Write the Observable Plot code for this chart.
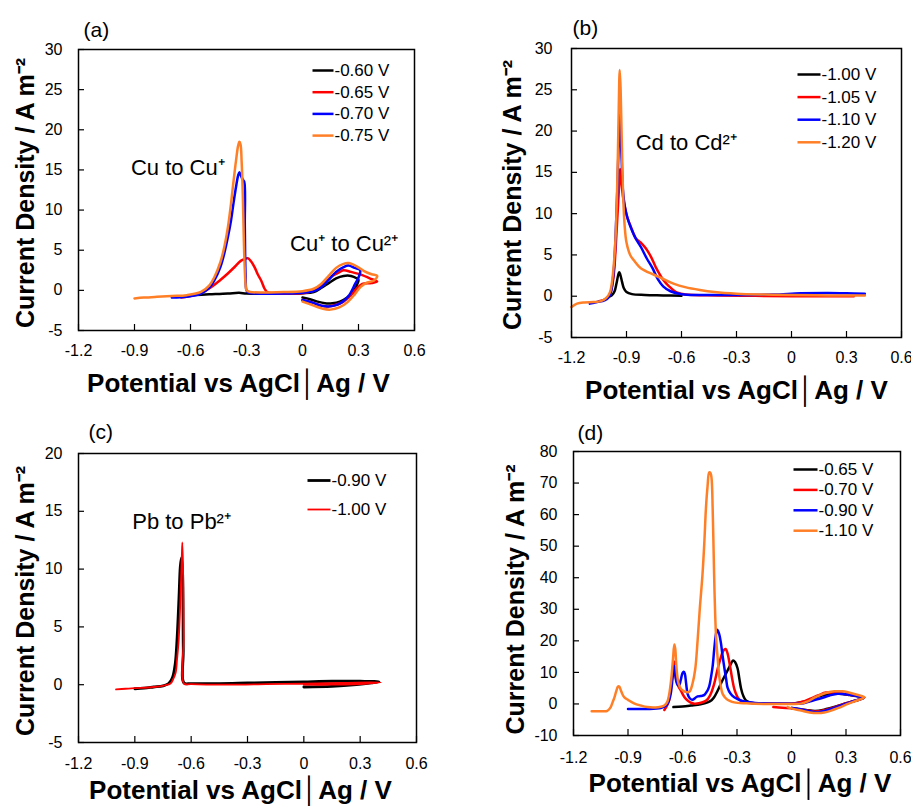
<!DOCTYPE html>
<html><head><meta charset="utf-8">
<script src="https://cdn.jsdelivr.net/npm/d3@7"></script>
<script src="https://cdn.jsdelivr.net/npm/@observablehq/plot@0.6"></script>
<style>
body{margin:0;background:#fff}
#root{position:relative;width:911px;height:806px;overflow:hidden;background:#fff}
#root svg{position:absolute}
</style></head><body><div id="root"></div>
<script>
// ---------- shared axis ----------
const xDomain = [-1.2, 0.6];
const xTicks = [-1.2, -0.9, -0.6, -0.3, 0, 0.3, 0.6];
const xTitle = "Potential vs AgCl│Ag / V";
const yTitle = "Current Density / A m⁻²";
const colorBlack = "#000000", colorRed = "#ff0000", colorBlue = "#0000ff", colorOrange = "#ff7f27";

// ---------- panel (a): Cu ----------
const aNames = ["-0.60 V", "-0.65 V", "-0.70 V", "-0.75 V"];
const aTicksY = [-5, 0, 5, 10, 15, 20, 25, 30];
const a060 = [[-0.60,-0.6],[-0.50,-0.5],[-0.40,-0.4],[-0.34,-0.3],[-0.30,-0.4],[-0.20,-0.4],[-0.10,-0.4],[0.00,-0.35],[0.06,-0.2],[0.10,0.3],[0.14,0.9],[0.18,1.5],[0.22,1.8],[0.26,1.8],[0.29,1.5],[0.30,1.3],[0.29,0.6],[0.27,-0.2],[0.24,-0.9],[0.20,-1.4],[0.16,-1.6],[0.12,-1.6],[0.08,-1.4],[0.04,-1.1],[0.00,-0.9]];
const a065 = [[-0.65,-0.9],[-0.60,-0.7],[-0.55,-0.4],[-0.49,0.4],[-0.44,1.3],[-0.40,2.1],[-0.36,3.0],[-0.329,3.7],[-0.293,4.0],[-0.275,3.6],[-0.257,2.9],[-0.24,2.0],[-0.221,1.2],[-0.203,0.2],[-0.19,-0.2],[-0.15,-0.4],[-0.05,-0.4],[0.02,-0.3],[0.08,0.2],[0.12,1.0],[0.16,1.8],[0.20,2.3],[0.22,2.5],[0.26,2.3],[0.32,1.9],[0.36,1.5],[0.40,1.1],[0.37,0.9],[0.32,0.8],[0.29,0.2],[0.26,-0.6],[0.22,-1.4],[0.18,-1.8],[0.14,-2.0],[0.10,-1.9],[0.05,-1.5],[0.00,-1.2]];
const a070 = [[-0.70,-0.9],[-0.62,-0.8],[-0.544,-0.4],[-0.50,0.3],[-0.473,1.2],[-0.44,2.9],[-0.419,4.6],[-0.40,6.6],[-0.383,8.7],[-0.37,10.8],[-0.356,12.9],[-0.345,14.3],[-0.338,14.7],[-0.33,14.3],[-0.32,13.8],[-0.312,13.5],[-0.309,8],[-0.305,2],[-0.30,0],[-0.29,-0.3],[-0.25,-0.4],[-0.10,-0.4],[0.00,-0.3],[0.06,-0.1],[0.10,0.4],[0.14,1.3],[0.18,2.3],[0.22,2.9],[0.246,3.1],[0.28,2.8],[0.309,2.5],[0.30,1.6],[0.282,0.8],[0.25,-0.6],[0.21,-1.5],[0.17,-1.9],[0.138,-2.0],[0.10,-1.9],[0.05,-1.5],[0.00,-1.2]];
const a075 = [[-0.90,-1.0],[-0.85,-0.9],[-0.78,-0.8],[-0.70,-0.7],[-0.62,-0.6],[-0.544,-0.2],[-0.50,0.6],[-0.473,1.6],[-0.44,3.5],[-0.419,5.4],[-0.40,7.8],[-0.383,10.8],[-0.37,13.5],[-0.356,16.2],[-0.345,18.0],[-0.338,18.5],[-0.332,18.2],[-0.326,16.0],[-0.32,12.0],[-0.315,7.0],[-0.31,3.0],[-0.305,0.8],[-0.30,0],[-0.28,-0.2],[-0.10,-0.2],[0.00,-0.1],[0.06,0.2],[0.10,0.8],[0.14,1.8],[0.18,2.8],[0.22,3.3],[0.246,3.4],[0.29,3.0],[0.33,2.4],[0.37,2.0],[0.40,1.8],[0.38,1.2],[0.34,0.9],[0.31,0.4],[0.28,-0.5],[0.24,-1.5],[0.20,-2.1],[0.15,-2.4],[0.11,-2.3],[0.06,-1.9],[0.00,-1.4]];

// ---------- panel (b): Cd ----------
const bNames = ["-1.00 V", "-1.05 V", "-1.10 V", "-1.20 V"];
const bTicksY = [-5, 0, 5, 10, 15, 20, 25, 30];
const b100 = [[-1.00,-0.1],[-0.98,0.1],[-0.965,0.6],[-0.955,1.5],[-0.945,2.6],[-0.94,2.9],[-0.935,2.7],[-0.925,1.8],[-0.915,1.0],[-0.90,0.5],[-0.87,0.25],[-0.80,0.15],[-0.70,0.1],[-0.60,0.05]];
const b105 = [[-1.05,-0.6],[-1.02,-0.4],[-1.00,-0.1],[-0.985,0.6],[-0.97,2.5],[-0.96,5.5],[-0.95,9.5],[-0.94,13.5],[-0.935,15.4],[-0.928,14.0],[-0.92,12.2],[-0.913,11.2],[-0.895,9.5],[-0.876,8.4],[-0.849,7.0],[-0.822,6.5],[-0.795,5.8],[-0.767,4.8],[-0.74,3.5],[-0.70,2.0],[-0.668,1.2],[-0.63,0.5],[-0.58,0.2],[-0.40,0.1],[-0.20,0.05],[0.00,0.0],[0.20,0.0],[0.34,0.0]];
const b110 = [[-1.10,-0.9],[-1.06,-0.7],[-1.02,-0.5],[-1.00,-0.2],[-0.985,0.5],[-0.97,3.0],[-0.96,7.0],[-0.95,13.0],[-0.942,19.0],[-0.937,22.0],[-0.932,19.5],[-0.926,16.4],[-0.92,13.0],[-0.91,11.0],[-0.895,9.5],[-0.876,8.3],[-0.85,7.0],[-0.82,5.9],[-0.79,4.6],[-0.758,3.4],[-0.73,2.1],[-0.70,1.2],[-0.66,0.6],[-0.60,0.25],[-0.50,0.15],[-0.30,0.15],[-0.10,0.2],[0.05,0.35],[0.20,0.4],[0.30,0.35],[0.40,0.3]];
const b120 = [[-1.20,-1.3],[-1.17,-0.9],[-1.13,-0.75],[-1.08,-0.7],[-1.04,-0.6],[-1.01,-0.2],[-0.99,0.5],[-0.975,2.5],[-0.96,7.0],[-0.95,14.0],[-0.943,22.0],[-0.937,27.4],[-0.932,25.0],[-0.926,19.0],[-0.918,12.0],[-0.91,8.5],[-0.90,6.5],[-0.88,5.0],[-0.858,4.3],[-0.822,3.4],[-0.75,2.6],[-0.70,2.1],[-0.64,1.5],[-0.58,1.1],[-0.50,0.75],[-0.42,0.5],[-0.30,0.3],[-0.15,0.2],[0.00,0.15],[0.20,0.1],[0.40,0.1]];

// ---------- panel (c): Pb ----------
const cNames = ["-0.90 V", "-1.00 V"];
const cTicksY = [-5, 0, 5, 10, 15, 20];
const c090 = [[-0.90,-0.35],[-0.85,-0.3],[-0.80,-0.2],[-0.75,-0.1],[-0.72,0.1],[-0.70,0.6],[-0.685,1.8],[-0.675,4.0],[-0.665,7.5],[-0.658,10.2],[-0.652,11.0],[-0.646,9.8],[-0.642,3.0],[-0.638,0.15],[-0.60,0.1],[-0.45,0.1],[-0.30,0.15],[-0.15,0.2],[0.00,0.25],[0.15,0.3],[0.30,0.3],[0.40,0.25],[0.36,0.15],[0.28,0.0],[0.15,-0.15],[0.00,-0.2]];
const c100 = [[-1.00,-0.4],[-0.95,-0.35],[-0.90,-0.3],[-0.80,-0.2],[-0.74,-0.05],[-0.71,0.1],[-0.695,0.5],[-0.683,1.0],[-0.675,2.2],[-0.666,4.0],[-0.657,7.5],[-0.65,11.0],[-0.647,12.3],[-0.643,10.0],[-0.64,4.0],[-0.638,0.1],[-0.60,0.05],[-0.40,0.0],[-0.20,0.05],[0.00,0.1],[0.20,0.15],[0.41,0.2],[0.30,0.05],[0.15,0.0],[0.00,0.0]];

// ---------- panel (d): mixed ----------
const dNames = ["-0.65 V", "-0.70 V", "-0.90 V", "-1.10 V"];
const dTicksY = [-10, 0, 10, 20, 30, 40, 50, 60, 70, 80];
const d065 = [[-0.65,-1.0],[-0.60,-0.8],[-0.554,-0.5],[-0.50,-0.1],[-0.462,0.5],[-0.44,1.2],[-0.426,2.1],[-0.41,3.8],[-0.389,6.4],[-0.37,8.6],[-0.352,10.6],[-0.335,12.5],[-0.322,13.8],[-0.31,13.2],[-0.297,11.3],[-0.287,8.0],[-0.278,5.0],[-0.265,2.5],[-0.251,1.1],[-0.225,0.4],[-0.20,0.2],[-0.10,0.1],[0.00,0.1],[0.06,0.6],[0.10,1.3],[0.15,2.4],[0.20,3.0],[0.26,3.2],[0.32,2.8],[0.40,2.0],[0.35,1.0],[0.30,0.2],[0.24,-0.9],[0.18,-1.8],[0.13,-2.2],[0.08,-1.9],[0.03,-1.5],[0.00,-1.3]];
const d070 = [[-0.70,-1.9],[-0.685,-0.5],[-0.674,1.1],[-0.665,4.5],[-0.655,9.5],[-0.648,13.5],[-0.643,12.0],[-0.635,8.0],[-0.622,5.5],[-0.609,4.2],[-0.59,2.2],[-0.572,1.1],[-0.55,0.3],[-0.536,0.1],[-0.51,0.2],[-0.481,0.7],[-0.46,1.6],[-0.444,3.2],[-0.425,6.5],[-0.407,11.0],[-0.39,14.5],[-0.375,16.9],[-0.362,17.4],[-0.352,16.0],[-0.343,13.5],[-0.334,10.5],[-0.325,7.5],[-0.315,4.8],[-0.30,2.5],[-0.288,1.4],[-0.265,0.7],[-0.241,0.4],[-0.20,0.2],[-0.10,0.1],[0.00,0.1],[0.06,0.7],[0.10,1.6],[0.15,2.8],[0.19,3.6],[0.25,3.5],[0.32,2.9],[0.40,2.0],[0.35,1.0],[0.30,0.2],[0.24,-1.0],[0.18,-2.0],[0.13,-2.4],[0.08,-2.0],[0.02,-1.5],[-0.05,-1.2],[-0.10,-1.0]];
const d090 = [[-0.90,-1.6],[-0.80,-1.6],[-0.72,-1.3],[-0.69,-0.5],[-0.675,1.0],[-0.664,3.5],[-0.655,8.0],[-0.647,12.0],[-0.642,10.0],[-0.635,7.4],[-0.627,6.0],[-0.619,5.8],[-0.61,7.5],[-0.60,9.8],[-0.593,10.2],[-0.587,9.5],[-0.58,6.5],[-0.572,3.2],[-0.56,1.8],[-0.545,1.3],[-0.53,1.9],[-0.517,2.4],[-0.50,2.5],[-0.481,2.8],[-0.465,4.0],[-0.453,5.6],[-0.443,8.5],[-0.434,12.0],[-0.425,17.5],[-0.416,22.0],[-0.409,23.5],[-0.40,22.5],[-0.389,19.5],[-0.38,15.5],[-0.37,11.6],[-0.36,8.0],[-0.352,5.2],[-0.335,3.2],[-0.315,2.1],[-0.28,1.1],[-0.241,0.6],[-0.20,0.3],[-0.10,0.15],[0.00,0.1],[0.053,0.1],[0.10,0.8],[0.163,1.8],[0.21,2.7],[0.255,3.2],[0.31,3.0],[0.36,2.5],[0.40,2.0],[0.35,1.0],[0.30,0.1],[0.24,-1.2],[0.18,-2.2],[0.14,-2.6],[0.09,-2.2],[0.04,-1.6],[0.00,-1.3]];
const d110 = [[-1.10,-2.3],[-1.05,-2.3],[-1.014,-2.2],[-0.995,-1.0],[-0.985,0.5],[-0.975,2.0],[-0.965,4.0],[-0.955,5.5],[-0.948,5.5],[-0.94,4.4],[-0.93,3.0],[-0.92,2.1],[-0.90,1.3],[-0.867,0.2],[-0.83,-0.5],[-0.793,-1.0],[-0.75,-1.1],[-0.72,-0.9],[-0.70,-0.5],[-0.685,0.5],[-0.675,2.5],[-0.667,5.5],[-0.66,9.0],[-0.652,14.5],[-0.645,18.8],[-0.64,17.5],[-0.635,13.0],[-0.63,9.5],[-0.622,6.5],[-0.609,4.8],[-0.59,4.0],[-0.572,3.7],[-0.56,4.0],[-0.545,6.4],[-0.53,11.0],[-0.517,20.0],[-0.505,30.0],[-0.49,41.0],[-0.48,51.0],[-0.471,62.0],[-0.462,69.0],[-0.453,73.4],[-0.446,73.2],[-0.44,71.5],[-0.434,62.0],[-0.43,52.0],[-0.426,41.0],[-0.42,28.0],[-0.414,20.0],[-0.407,14.8],[-0.398,9.0],[-0.389,5.5],[-0.379,3.2],[-0.36,1.7],[-0.34,1.0],[-0.315,0.5],[-0.25,0.2],[-0.15,0.0],[0.00,0.0],[0.053,0.1],[0.09,0.8],[0.126,2.0],[0.18,3.3],[0.236,4.0],[0.28,4.0],[0.31,3.7],[0.36,2.9],[0.402,2.1],[0.36,1.1],[0.31,0.0],[0.26,-1.2],[0.218,-2.1],[0.18,-2.7],[0.145,-2.9],[0.10,-2.7],[0.053,-2.1],[0.00,-1.4],[-0.021,-1.0]];

// ---------- annotations (text, potential, current) ----------
const aNotes = [["Cu to Cu⁺", -0.668, 15.2], ["Cu⁺ to Cu²⁺", 0.223, 5.8]];
const bNotes = [["Cd to Cd²⁺", -0.574, 18.6]];
const cNotes = [["Pb to Pb²⁺", -0.651, 14.1]];
const dNotes = [];

const FONT = "'Liberation Sans', Arial, Helvetica, sans-serif";

function panel(p) {
  const fw = p.width - p.mL - p.mR, fh = p.height - p.mT - p.mB;
  const [x0, x1] = xDomain, [y0, y1] = p.yDomain;
  const px2x = d => x0 + d / fw * (x1 - x0);
  const px2y = d => y1 - d / fh * (y1 - y0);
  const marks = [
    Plot.axisX({ticks: xTicks, tickSize: 0, tickPadding: p.xPad, tickFormat: d => String(d), label: null, fontSize: 16}),
    Plot.axisY({ticks: p.yTicks, tickSize: 0, tickPadding: p.yPad, tickFormat: d => String(d), label: null, fontSize: 16}),
    Plot.tickX(xTicks, {x: d => d, insetTop: fh - 6, stroke: "black", strokeWidth: 1.2}),
    Plot.tickY(p.yTicks, {y: d => d, insetRight: fw - 6, stroke: "black", strokeWidth: 1.2})
  ];
  p.series.forEach(s => {
    marks.push(Plot.line(s.pts.map(([v, j]) => ({v, j})), {x: "v", y: "j", stroke: s.color, strokeWidth: s.w, curve: "catmull-rom"}));
  });
  marks.push(Plot.frame({stroke: "black", strokeWidth: 1.5}));
  // legend
  const leg = p.series.map((s, i) => ({name: s.name, color: s.color, w: s.w,
    x1: px2x(p.leg.x1), x2: px2x(p.leg.x2), xt: px2x(p.leg.x2 + 1), y: px2y(p.leg.y0 + i * p.leg.dy)}));
  marks.push(Plot.link(leg, {x1: "x1", x2: "x2", y1: "y", y2: "y", stroke: "color", strokeWidth: d => d.w}));
  marks.push(Plot.text(leg, {x: "xt", y: "y", text: "name", textAnchor: "start", lineAnchor: "middle", fontSize: 17, fill: "black"}));
  // annotations
  marks.push(Plot.text(p.notes, {x: d => d[1], y: d => d[2], text: d => d[0], textAnchor: "middle", lineAnchor: "middle", fontSize: 22, fill: "black"}));
  // panel label and axis titles
  marks.push(Plot.text([p.label], {frameAnchor: "top-left", dx: p.labDx, dy: p.labDy, text: d => d, textAnchor: "start", lineAnchor: "middle", fontSize: 21, fill: "black"}));
  marks.push(Plot.text([xTitle], {frameAnchor: "bottom", dx: p.xtDx, dy: p.xtDy, text: d => d, textAnchor: "middle", lineAnchor: "middle", fontSize: 26, fontWeight: "bold", fill: "black"}));
  marks.push(Plot.text([yTitle], {frameAnchor: "left", dx: p.ytDx, dy: p.ytDy, rotate: -90, text: d => d, textAnchor: "middle", lineAnchor: "middle", fontSize: 25, fontWeight: "bold", fill: "black"}));

  const svg = Plot.plot({
    width: p.width, height: p.height,
    marginLeft: p.mL, marginRight: p.mR, marginTop: p.mT, marginBottom: p.mB,
    x: {domain: xDomain},
    y: {domain: p.yDomain},
    style: {fontFamily: FONT, fontSize: "16px", color: "black", background: "transparent", overflow: "visible"},
    marks
  });
  svg.style.left = p.left + "px";
  svg.style.top = p.top + "px";
  document.getElementById("root").appendChild(svg);
}

panel({left: 0, top: 0, width: 455, height: 400, mL: 78, mT: 49, mR: 41, mB: 70,
  yDomain: [-5, 30], yTicks: aTicksY, xPad: 14, yPad: 16, label: "(a)", labDx: 5, labDy: -19,
  xtDx: -8, xtDy: 53, ytDx: -53, ytDy: 3,
  leg: {x1: 234, x2: 255, y0: 21, dy: 21.7}, notes: aNotes,
  series: [{name: aNames[0], color: colorBlack, w: 2.5, pts: a060}, {name: aNames[1], color: colorRed, w: 2.5, pts: a065},
           {name: aNames[2], color: colorBlue, w: 2.5, pts: a070}, {name: aNames[3], color: colorOrange, w: 2.5, pts: a075}]});

panel({left: 455, top: 0, width: 456, height: 400, mL: 116, mT: 48, mR: 10, mB: 63,
  yDomain: [-5, 30], yTicks: bTicksY, xPad: 14, yPad: 19, label: "(b)", labDx: 1, labDy: -20,
  xtDx: 0, xtDy: 53, ytDx: -59, ytDy: 2,
  leg: {x1: 226, x2: 249, y0: 26, dy: 22.6}, notes: bNotes,
  series: [{name: bNames[0], color: colorBlack, w: 2.5, pts: b100}, {name: bNames[1], color: colorRed, w: 2.5, pts: b105},
           {name: bNames[2], color: colorBlue, w: 2.5, pts: b110}, {name: bNames[3], color: colorOrange, w: 2.5, pts: b120}]});

panel({left: 0, top: 400, width: 455, height: 406, mL: 78, mT: 53, mR: 39, mB: 64,
  yDomain: [-5, 20], yTicks: cTicksY, xPad: 15, yPad: 16, label: "(c)", labDx: 10, labDy: -21,
  xtDx: -7, xtDy: 48, ytDx: -53, ytDy: 3,
  leg: {x1: 229, x2: 252, y0: 27, dy: 29}, notes: cNotes,
  series: [{name: cNames[0], color: colorBlack, w: 2.8, pts: c090}, {name: cNames[1], color: colorRed, w: 1.8, pts: c100}]});

panel({left: 455, top: 400, width: 456, height: 406, mL: 118, mT: 51, mR: 11, mB: 71,
  yDomain: [-10, 80], yTicks: dTicksY, xPad: 16, yPad: 16, label: "(d)", labDx: 4, labDy: -18,
  xtDx: 3, xtDy: 48, ytDx: -58, ytDy: 6,
  leg: {x1: 220, x2: 244, y0: 18, dy: 20.4}, notes: dNotes,
  series: [{name: dNames[0], color: colorBlack, w: 2.5, pts: d065}, {name: dNames[1], color: colorRed, w: 2.5, pts: d070},
           {name: dNames[2], color: colorBlue, w: 2.5, pts: d090}, {name: dNames[3], color: colorOrange, w: 2.5, pts: d110}]});
</script></body></html>
